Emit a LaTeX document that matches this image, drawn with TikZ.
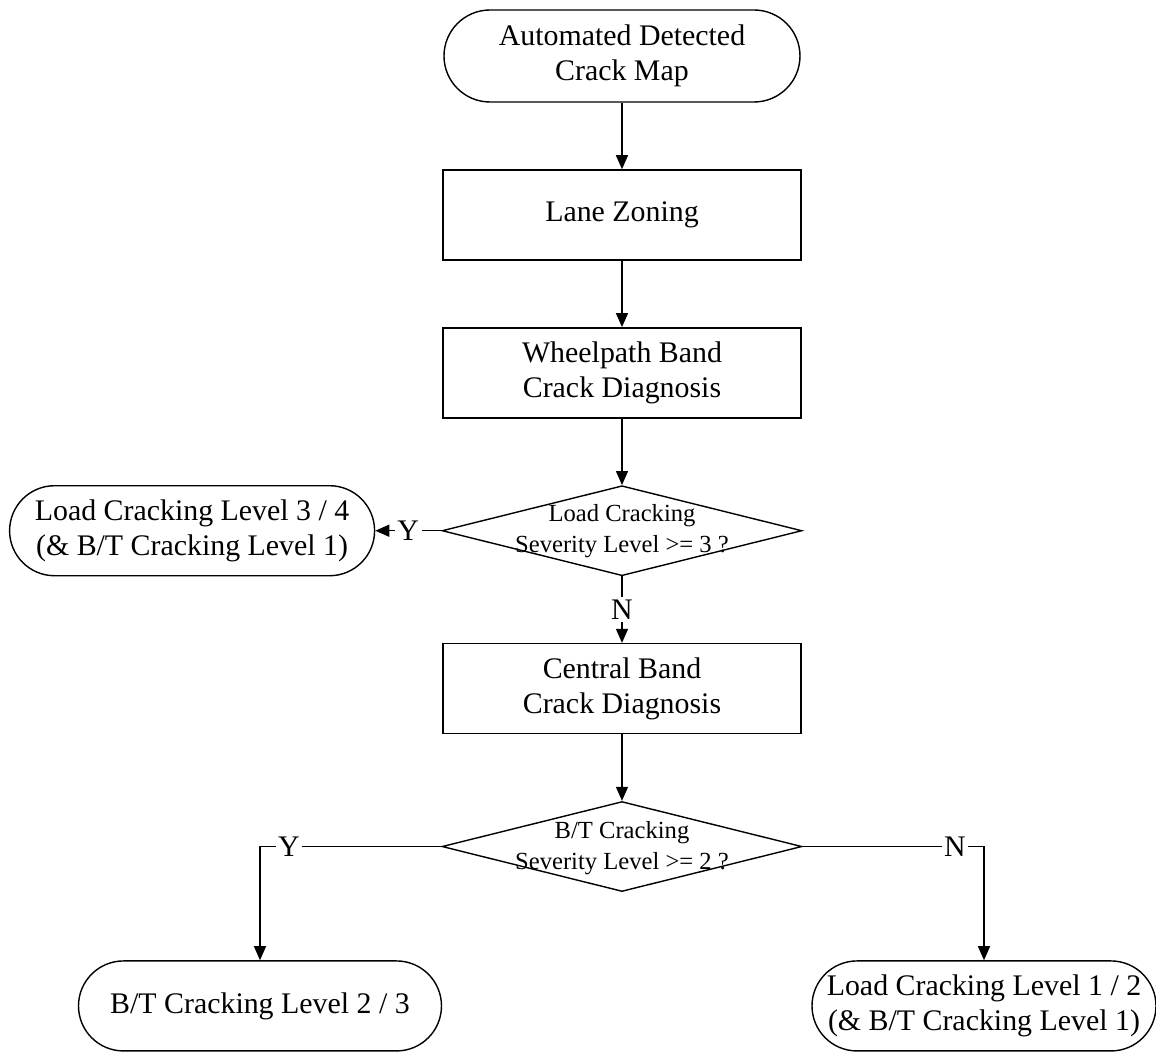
\documentclass[tikz,border=0pt]{standalone}
\usepackage{fontspec}
\setmainfont{Liberation Serif}
\usetikzlibrary{positioning, shapes.geometric, arrows.meta}

\tikzset{
    terminal/.style={draw, line width=0.8pt, rectangle, rounded corners=0.9cm,
        minimum height=1.8cm, inner sep=2pt, align=center, font=\fontsize{17}{20}\selectfont},
    process/.style={draw, line width=0.8pt, rectangle, minimum width=7.16cm,
        minimum height=1.8cm, align=center, font=\fontsize{17}{20}\selectfont},
    decision/.style={draw, line width=0.8pt, diamond, minimum width=7.2cm,
        minimum height=1.8cm, inner sep=0pt},
    query/.style={align=center, font=\fontsize{14}{17.6}\selectfont},
    yn/.style={fill=white, inner sep=1.5pt, font=\fontsize{17}{20}\selectfont},
    arr/.style={line width=0.8pt, -{Triangle[length=2.8mm, width=2.4mm]}}
}

\begin{document}
\begin{tikzpicture}[node distance=1.33cm] % global spacing of the main column

    \useasboundingbox (-12.44,1.12) rectangle (10.68,-19.96);

    % 1. Main column
    \node[terminal, minimum width=7.12cm, minimum height=1.84cm, rounded corners=0.92cm] (start) at (0, 0)
        {Automated Detected\\Crack Map};
    \node[process] (lane) [below=of start] {Lane Zoning};
    \node[process] (wheel) [below=of lane] {Wheelpath Band\\Crack Diagnosis};
    \node[decision] (d1) [below=of wheel] {};
    \node[query] (d1txt) at (d1) {Load Cracking\\Severity Level >= 3 ?};
    \node[process] (central) [below=of d1] {Central Band\\Crack Diagnosis};
    \node[decision] (d2) [below=of central] {};
    \node[query] (d2txt) at ([yshift=-1pt]d2) {B/T Cracking\\Severity Level >= 2 ?};

    % 2. Outcomes
    \node[terminal, minimum width=7.3cm] (lc34) [left=1.32cm of d1]
        {Load Cracking Level 3 / 4\\(\& B/T Cracking Level 1)};
    \node[terminal, minimum width=7.26cm] (bt23) [below=1.36cm of d2, xshift=-7.24cm]
        {B/T Cracking Level 2 / 3};
    \node[terminal, minimum width=6.88cm] (lc12) [below=1.36cm of d2, xshift=7.24cm]
        {Load Cracking Level 1 / 2\\(\& B/T Cracking Level 1)};

    \coordinate (cY) at (bt23 |- d2.west);
    \coordinate (cN) at (lc12 |- d2.east);

    % 3. Connectors
    \draw[arr] (start) -- (lane);
    \draw[arr] (lane) -- (wheel);
    \draw[arr] (wheel) -- (d1);
    \draw[arr] (d1) -- node[yn] {Y} (lc34);
    \draw[arr] (d1) -- node[yn] {N} (central);
    \draw[arr] (central) -- (d2);
    \draw[arr] (d2.west) -- node[yn, pos=0.84] {Y} (cY) -- (bt23);
    \draw[arr] (d2.east) -- node[yn, pos=0.84] {N} (cN) -- (lc12);
\end{tikzpicture}
\end{document}
